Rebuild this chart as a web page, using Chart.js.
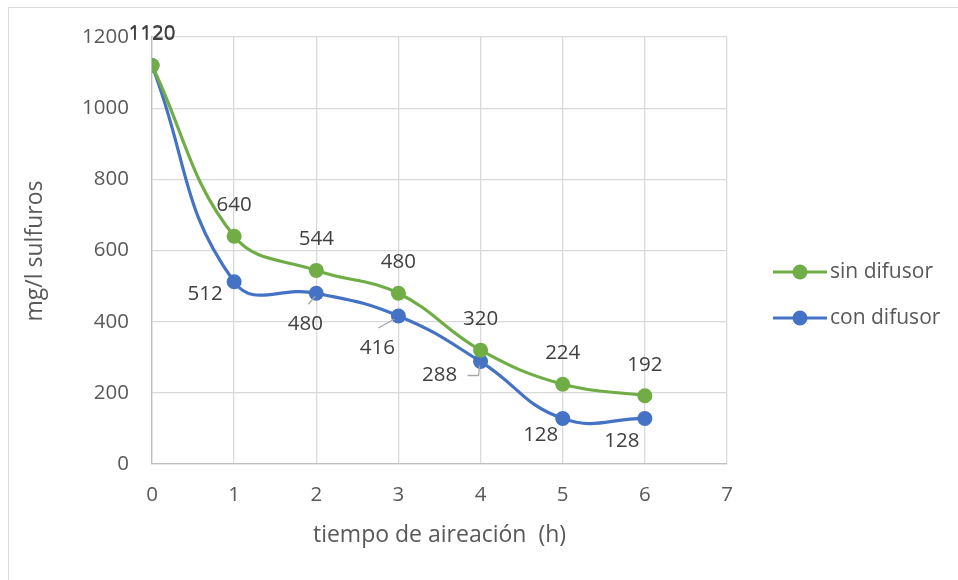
<!DOCTYPE html>
<html>
<head>
<meta charset="utf-8">
<script src="https://cdn.jsdelivr.net/npm/chart.js@4/dist/chart.umd.min.js"></script>
<style>
  html, body { margin: 0; padding: 0; background: #ffffff; }
  #frame { position: absolute; left: 8px; top: 7px; width: 960px; height: 600px; border: 1px solid #d9d9d9; box-sizing: border-box; }
  #wrap { position: absolute; left: 0; top: 0; width: 958px; height: 580px; }
</style>
</head>
<body>
<div id="frame"></div>
<div id="wrap"><canvas id="c" width="958" height="580"></canvas></div>
<script>
// Aeration time (hours) and sulfide concentration (mg/l)
const hours = [0, 1, 2, 3, 4, 5, 6];
const sinDifusor = [1120, 640, 544, 480, 320, 224, 192];
const conDifusor = [1120, 512, 480, 416, 288, 128, 128];
const seriesNames = ['sin difusor', 'con difusor'];
const xTitle = 'tiempo de aireación  (h)';
const yTitle = 'mg/l sulfuros';

const GREEN = '#70ad47';
const BLUE = '#4472c4';
const TEXT = '#595959';
const LABEL = '#404040';
const FONT = '"Open Sans", Lato, sans-serif';

const toPoints = (vals) => hours.map((h, i) => ({ x: h, y: vals[i] }));

// Label placement relative to each point (pixels), plus optional leader lines
const sinLabelOffsets = hours.map(() => ({ dx: 0, dy: -31 }));
const conLabelOffsets = [
  { dx: 0, dy: -32 },
  { dx: -29, dy: 12 },
  { dx: -11, dy: 31, leader: [[-8, 11], [-1, 3]] },
  { dx: -21, dy: 32, leader: [[-20, 12], [-4, 3]] },
  { dx: -41, dy: 14, leader: [[-13, 14], [-2, 14], [-1, 4]] },
  { dx: -22, dy: 17 },
  { dx: -23, dy: 23 }
];

const overlay = {
  id: 'overlay',
  afterDatasetsDraw(chart) {
    const ctx = chart.ctx;
    const xs = chart.scales.x, ys = chart.scales.y;
    ctx.save();
    // value labels
    ctx.font = '20.5px ' + FONT;
    ctx.textAlign = 'center';
    ctx.textBaseline = 'middle';
    const sets = [[sinDifusor, sinLabelOffsets], [conDifusor, conLabelOffsets]];
    sets.forEach(([vals, offs]) => {
      vals.forEach((v, i) => {
        const px = xs.getPixelForValue(hours[i]);
        const py = ys.getPixelForValue(v);
        const o = offs[i];
        if (o.leader) {
          ctx.strokeStyle = '#a6a6a6';
          ctx.lineWidth = 1.3;
          ctx.beginPath();
          o.leader.forEach(([lx, ly], k) => {
            if (k === 0) ctx.moveTo(px + lx, py + ly); else ctx.lineTo(px + lx, py + ly);
          });
          ctx.stroke();
        }
        ctx.fillStyle = LABEL;
        ctx.fillText(String(v), px + o.dx, py + o.dy);
      });
    });
    // axis titles
    ctx.fillStyle = TEXT;
    ctx.font = '23px ' + FONT;
    ctx.fillText(xTitle, (chart.chartArea.left + chart.chartArea.right) / 2, 535);
    ctx.save();
    ctx.translate(35, 251);
    ctx.rotate(-Math.PI / 2);
    ctx.fillText(yTitle, 0, 0);
    ctx.restore();
    // legend
    const legendRows = [[seriesNames[0], GREEN, 272], [seriesNames[1], BLUE, 318]];
    legendRows.forEach(([name, col, y]) => {
      ctx.strokeStyle = col;
      ctx.lineWidth = 3;
      ctx.beginPath();
      ctx.moveTo(773, y);
      ctx.lineTo(827, y);
      ctx.stroke();
      ctx.fillStyle = col;
      ctx.beginPath();
      ctx.arc(800, y, 7.5, 0, Math.PI * 2);
      ctx.fill();
      ctx.fillStyle = TEXT;
      ctx.textAlign = 'left';
      ctx.font = '21px ' + FONT;
      ctx.fillText(name, 830, y);
    });
    ctx.restore();
  }
};

new Chart(document.getElementById('c'), {
  type: 'scatter',
  data: {
    datasets: [
      {
        label: seriesNames[0],
        data: toPoints(sinDifusor),
        showLine: true,
        borderColor: GREEN,
        backgroundColor: GREEN,
        borderWidth: 3.2,
        pointRadius: 7.5,
        pointHoverRadius: 7.5,
        pointBorderWidth: 0,
        tension: 0.4
      },
      {
        label: seriesNames[1],
        data: toPoints(conDifusor),
        showLine: true,
        borderColor: BLUE,
        backgroundColor: BLUE,
        borderWidth: 3.2,
        pointRadius: 7.5,
        pointHoverRadius: 7.5,
        pointBorderWidth: 0,
        tension: 0.45
      }
    ]
  },
  options: {
    responsive: false,
    animation: false,
    events: [],
    layout: { padding: { left: 0, top: 37, right: 231, bottom: 0 } },
    plugins: { legend: { display: false }, tooltip: { enabled: false } },
    scales: {
      x: {
        type: 'linear',
        min: 0,
        max: 7,
        afterFit(s) { s.height = 116; },
        ticks: { stepSize: 1, color: TEXT, font: { family: FONT, size: 20.5 }, padding: 19, callback: (v) => String(v) },
        grid: { color: '#d9d9d9', lineWidth: 1.3, drawTicks: false },
        border: { color: '#bfbfbf', width: 1.3 }
      },
      y: {
        min: 0,
        max: 1200,
        afterFit(s) { s.width = 152; },
        ticks: { stepSize: 200, color: TEXT, font: { family: FONT, size: 20.5 }, padding: 23, callback: (v) => String(v) },
        grid: { color: '#d9d9d9', lineWidth: 1.3, drawTicks: false },
        border: { color: '#bfbfbf', width: 1.3 }
      }
    }
  },
  plugins: [overlay]
});
</script>
</body>
</html>
